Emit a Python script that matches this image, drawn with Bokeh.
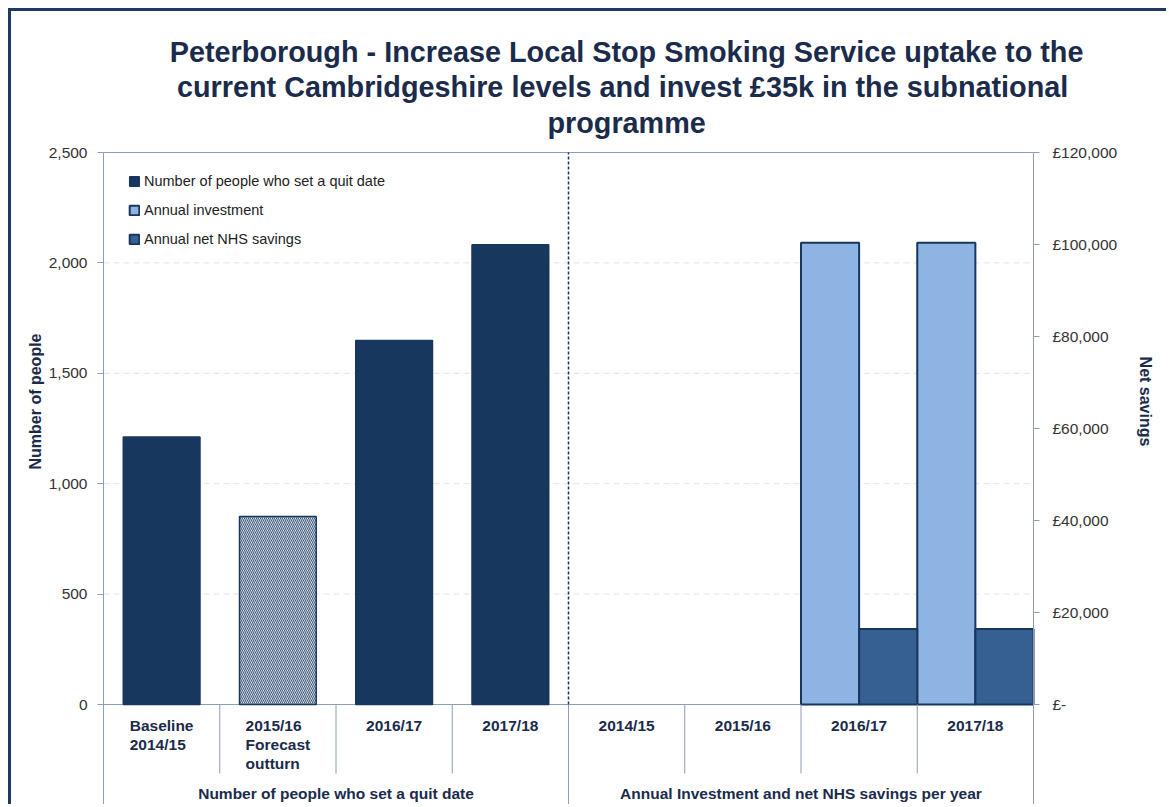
import math
from bokeh.plotting import figure
from bokeh.models import (Range1d, LinearAxis, FixedTicker, NumeralTickFormatter, ColumnDataSource,
                          Label, LabelSet, Legend, LegendItem)
from bokeh.core.properties import value
from bokeh.embed import file_html
from bokeh.resources import INLINE

# ---------------- data ----------------
title_text = ("Peterborough - Increase Local Stop Smoking Service uptake to the\n"
              "current Cambridgeshire  levels and invest £35k in the subnational\n"
              "programme")
group_labels = ["Number of people who set a quit date",
                "Annual Investment and net NHS savings per year"]
people_categories = ["Baseline\n2014/15", "2015/16\nForecast\noutturn", "2016/17", "2017/18"]
people_values = [1212, 852, 1648, 2082]
people_is_forecast = [False, True, False, False]
finance_categories = ["2014/15", "2015/16", "2016/17", "2017/18"]
annual_investment = [0, 0, 100400, 100400]
annual_net_savings = [0, 0, 16400, 16400]
series_names = ["Number of people who set a quit date", "Annual investment", "Annual net NHS savings"]
left_ticks = [0, 500, 1000, 1500, 2000, 2500]
right_ticks = [0, 20000, 40000, 60000, 80000, 100000, 120000]
right_tick_labels = ["£-", "£20,000", "£40,000", "£60,000", "£80,000", "£100,000", "£120,000"]
left_axis_title = "Number of people"
right_axis_title = "Net savings"

# ---------------- style / layout ----------------
FONT = "Liberation Sans"
NAVY = "#17375E"
LIGHT = "#8EB4E3"
MID = "#376092"
AXIS = "#8E9DB5"
GRID = "#DCE4EF"
TEXT = "#1B2B4B"
TICKTXT = "#333333"

W, H = 1158, 796          # canvas size (page offset 8px + 3px border)
PLOT_PX = 552             # pixel height of the value area (0 .. max tick)
HEAD_PX = 141             # pixels above the max tick (title area)
FOOT_PX = 103             # pixels below zero (category labels)
SLOT_PX = 116.25          # pixel width of one category slot
LEFT_PX = 92              # pixels left of the first slot
RIGHT_PX = 136            # pixels right of the last slot

n_left = len(people_categories)
n_right = len(finance_categories)
n_all = n_left + n_right
y_max = left_ticks[-1]
upp = y_max / PLOT_PX                       # data units per pixel (y)
y_hi = y_max + HEAD_PX * upp
y_lo = -FOOT_PX * upp
ratio = right_ticks[-1] / y_max
x_lo = -LEFT_PX / SLOT_PX
x_hi = n_all + RIGHT_PX / SLOT_PX

p = figure(width=W, height=H,
           x_range=Range1d(x_lo, x_hi), y_range=Range1d(y_lo, y_hi),
           output_backend="svg", toolbar_location=None,
           x_axis_type=None, y_axis_type=None,
           min_border_left=0, min_border_right=0, min_border_top=0, min_border_bottom=0)
p.extra_y_ranges = {"money": Range1d(y_lo * ratio, y_hi * ratio)}
p.xgrid.visible = False
p.ygrid.visible = False
p.outline_line_color = None
p.background_fill_color = "white"
p.border_fill_color = "white"
p.styles = {"margin-left": "8px", "margin-top": "8px",
            "border-left": "3px solid #1F3864", "border-top": "3px solid #1F3864"}

# dashed horizontal grid lines across the value area
grid_vals = left_ticks[1:-1]
p.segment(x0=[0] * len(grid_vals), y0=grid_vals, x1=[n_all] * len(grid_vals), y1=grid_vals,
          line_color=GRID, line_dash="6 4", line_width=1)

# top border of the value area and the category axis line
p.segment(x0=[0, 0], y0=[y_max, 0], x1=[n_all, n_all], y1=[y_max, 0],
          line_color=AXIS, line_width=1)

# ---------------- bars ----------------
left_src = ColumnDataSource(dict(
    x=[i + 0.5 for i in range(n_left)],
    top=people_values,
    fill=["#FFFFFF" if f else NAVY for f in people_is_forecast],
    hatch=["\\" if f else " " for f in people_is_forecast],
))
r_people = p.vbar(x="x", top="top", width=0.66, bottom=0, source=left_src,
                  fill_color="fill", line_color=NAVY, line_width=1.5,
                  hatch_pattern="hatch", hatch_color=NAVY, hatch_alpha=0.8,
                  hatch_scale=4, hatch_weight=1.2)

inv_rows = [i for i, v in enumerate(annual_investment) if v > 0]
sav_rows = [i for i, v in enumerate(annual_net_savings) if v > 0]
inv_src = ColumnDataSource(dict(x=[n_left + i + 0.25 for i in inv_rows],
                                top=[annual_investment[i] for i in inv_rows]))
sav_src = ColumnDataSource(dict(x=[n_left + i + 0.75 for i in sav_rows],
                                top=[annual_net_savings[i] for i in sav_rows]))
r_inv = p.vbar(x="x", top="top", width=0.5, bottom=0, source=inv_src, y_range_name="money",
               fill_color=LIGHT, line_color=NAVY, line_width=2)
r_sav = p.vbar(x="x", top="top", width=0.5, bottom=0, source=sav_src, y_range_name="money",
               fill_color=MID, line_color=NAVY, line_width=2)

# dashed separator between the two panels (inside value area)
p.segment(x0=[n_left], y0=[0], x1=[n_left], y1=[y_max], line_color=NAVY,
          line_dash="3 2", line_width=1.5)

# category separators below the axis
inner = [i for i in range(1, n_all) if i != n_left]
p.segment(x0=inner, y0=[0] * len(inner), x1=inner, y1=[-69 * upp] * len(inner),
          line_color=AXIS, line_width=1)
p.segment(x0=[n_left], y0=[0], x1=[n_left], y1=[y_lo], line_color=AXIS, line_width=1)

# ---------------- axes ----------------
ly = LinearAxis(ticker=FixedTicker(ticks=left_ticks), formatter=NumeralTickFormatter(format="0,0"),
                bounds=(y_lo, y_max), fixed_location=0)
ry = LinearAxis(y_range_name="money", ticker=FixedTicker(ticks=right_ticks),
                major_label_overrides={t: s for t, s in zip(right_ticks, right_tick_labels)},
                bounds=(y_lo * ratio, right_ticks[-1]), fixed_location=n_all)
for ax in (ly, ry):
    ax.axis_line_color = AXIS
    ax.major_tick_line_color = AXIS
    ax.major_tick_out = 6
    ax.major_tick_in = 0
    ax.minor_tick_line_color = None
    ax.major_label_text_font = FONT
    ax.major_label_text_font_size = "15.5px"
    ax.major_label_text_color = TICKTXT
ly.major_label_standoff = 10
ry.major_label_standoff = 13
p.add_layout(ly, "left")
p.add_layout(ry, "right")

# axis titles
axis_title_y = (PLOT_PX - 249) * upp
p.add_layout(Label(x=-68 / SLOT_PX, y=axis_title_y, text=left_axis_title, angle=math.pi / 2,
                   text_align="center", text_baseline="middle", text_font=FONT,
                   text_font_size="16px", text_font_style="bold", text_color=TEXT))
p.add_layout(Label(x=n_all + 112 / SLOT_PX, y=axis_title_y, text=right_axis_title,
                   angle=-math.pi / 2, text_align="center", text_baseline="middle",
                   text_font=FONT, text_font_size="16px", text_font_style="bold",
                   text_color=TEXT))

# category labels under the axis
cat_src = ColumnDataSource(dict(
    x=[i + 0.5 for i in range(n_all)],
    y=[-12 * upp] * n_all,
    text=people_categories + finance_categories,
))
p.add_layout(LabelSet(x="x", y="y", text="text", source=cat_src,
                      text_align="center", text_baseline="top",
                      text_font=value(FONT), text_font_size="15.5px", text_font_style="bold",
                      text_color=TEXT, text_line_height=1.12))
grp_src = ColumnDataSource(dict(x=[n_left / 2, n_left + n_right / 2],
                                y=[-89 * upp] * 2, text=group_labels))
p.add_layout(LabelSet(x="x", y="y", text="text", source=grp_src,
                      text_align="center", text_baseline="middle",
                      text_font=value(FONT), text_font_size="15.5px", text_font_style="bold",
                      text_color=TEXT))

# title
p.add_layout(Label(x=n_left + 0.5, y=y_max + 65 * upp, text=title_text,
                   text_align="center", text_baseline="middle", text_font=FONT,
                   text_font_size="28.8px", text_font_style="bold", text_color=TEXT,
                   text_line_height=1.1))

# legend
legend = Legend(items=[LegendItem(label=series_names[0], renderers=[r_people], index=0),
                       LegendItem(label=series_names[1], renderers=[r_inv]),
                       LegendItem(label=series_names[2], renderers=[r_sav])],
                location=(LEFT_PX + 25, 560), orientation="vertical",
                label_text_font=FONT, label_text_font_size="14.5px", label_text_color="#222222",
                glyph_width=12, glyph_height=12, label_height=16, label_standoff=4,
                spacing=13, padding=0, margin=0,
                border_line_color=None, background_fill_alpha=0)
p.add_layout(legend)

open("out.html", "w").write(file_html(p, INLINE))
